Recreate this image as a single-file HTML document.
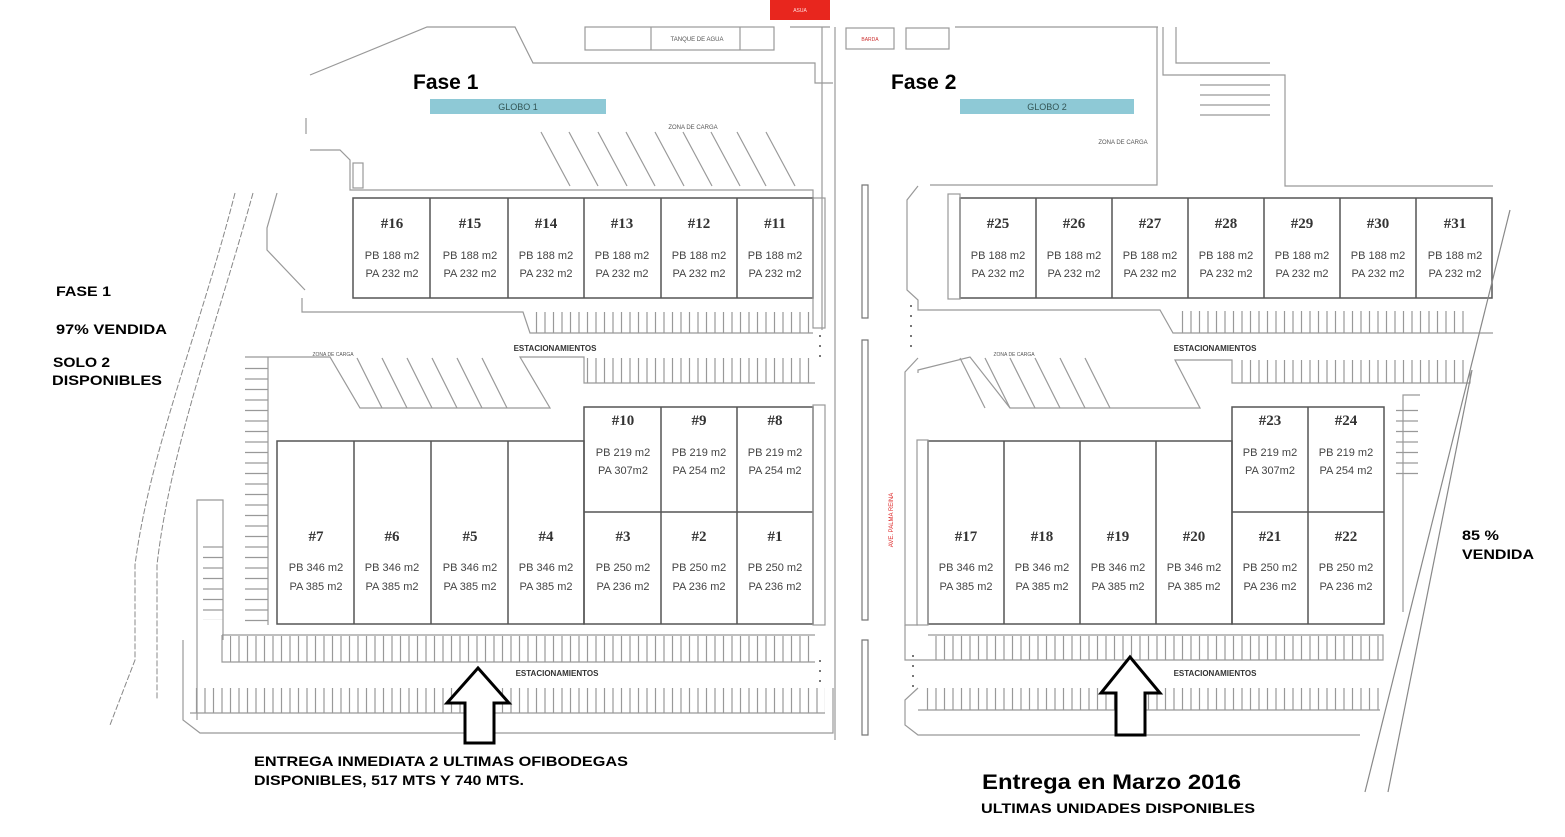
<!DOCTYPE html>
<html><head><meta charset="utf-8"><style>
html,body{margin:0;padding:0;background:#fff;width:1565px;height:837px;overflow:hidden}
svg{display:block}
.n{font-family:"Liberation Serif",serif;font-weight:bold;font-size:15px;fill:#333;text-anchor:middle}
.s{font-family:"Liberation Sans",sans-serif;font-size:11px;fill:#444;text-anchor:middle}
.b{font-family:"Liberation Sans",sans-serif;font-weight:bold;fill:#000}
.t{font-family:"Liberation Sans",sans-serif;font-size:7px;fill:#555;text-anchor:middle}
.g{stroke:#999;stroke-width:1.2;fill:none}
.u{stroke:#555;stroke-width:1.5;fill:none}
</style></head><body>
<svg width="1565" height="837" viewBox="0 0 1565 837" xmlns="http://www.w3.org/2000/svg">
<defs>
<pattern id="tk" width="8.5" height="40" patternUnits="userSpaceOnUse"><line x1="1" y1="0" x2="1" y2="40" stroke="#999" stroke-width="1.2"/></pattern>
<pattern id="hk" width="40" height="10.5" patternUnits="userSpaceOnUse"><line x1="0" y1="1" x2="40" y2="1" stroke="#999" stroke-width="1.2"/></pattern>
</defs>
<rect x="770" y="0" width="60" height="20" fill="#e8261e"/>
<text x="800" y="12" class="t" style="fill:#fdd;font-size:5px">ASUA</text>
<rect x="585" y="27" width="189" height="23" class="g"/>
<line x1="651" y1="27" x2="651" y2="50" class="g"/><line x1="740" y1="27" x2="740" y2="50" class="g"/>
<text x="697" y="41" class="t" style="font-size:6px">TANQUE DE AGUA</text>
<rect x="846" y="28" width="48" height="21" class="g"/><text x="870" y="41" class="t" style="font-size:5px;fill:#c33">BARDA</text>
<rect x="906" y="28" width="43" height="21" class="g"/>
<polyline class="g" points="310,75 427,27 515,27 533,63 815,63 815,83 833,83"/>
<polyline class="g" points="790,27 830,27"/>
<line x1="822" y1="27" x2="822" y2="330" class="g"/><line x1="835" y1="27" x2="835" y2="740" class="g"/>
<line x1="306" y1="118" x2="306" y2="134" class="g"/>
<polyline class="g" points="310,150 340,150 350,160 350,190 813,190 813,198"/>
<rect x="353" y="163" width="10" height="25" class="g"/>
<rect x="430" y="99" width="176" height="15" fill="#8ec9d6"/>
<text x="518" y="110" class="t" style="font-size:9px;fill:#355">GLOBO 1</text>
<rect x="960" y="99" width="174" height="15" fill="#8ec9d6"/>
<text x="1047" y="110" class="t" style="font-size:9px;fill:#355">GLOBO 2</text>
<text x="413" y="89" class="b" style="font-size:21px">Fase 1</text>
<text x="891" y="89" class="b" style="font-size:21px">Fase 2</text>
<text x="693" y="129" class="t" style="font-size:6px">ZONA DE CARGA</text>
<text x="1123" y="144" class="t" style="font-size:6px">ZONA DE CARGA</text>
<path class="g" d="M541 132 L570 186 M569 132 L598 186 M598 132 L627 186 M626 132 L655 186 M655 132 L684 186 M683 132 L712 186 M711 132 L740 186 M737 132 L766 186 M766 132 L795 186"/>
<rect x="353" y="198" width="460" height="100" class="u"/>
<path class="u" d="M430 198V298M508 198V298M584 198V298M661 198V298M737 198V298"/>
<polyline class="g" points="302,298 302,312 523,312 530,333 813,333"/>
<rect x="530" y="312" width="283" height="21" fill="url(#tk)"/>
<rect x="813" y="198" width="12" height="130" class="g"/>
<g class="n">
<text x="392" y="228">#16</text><text x="470" y="228">#15</text><text x="546" y="228">#14</text><text x="622" y="228">#13</text><text x="699" y="228">#12</text><text x="775" y="228">#11</text>
</g>
<g class="s">
<text x="392" y="259">PB 188 m2</text><text x="470" y="259">PB 188 m2</text><text x="546" y="259">PB 188 m2</text><text x="622" y="259">PB 188 m2</text><text x="699" y="259">PB 188 m2</text><text x="775" y="259">PB 188 m2</text>
<text x="392" y="277">PA 232 m2</text><text x="470" y="277">PA 232 m2</text><text x="546" y="277">PA 232 m2</text><text x="622" y="277">PA 232 m2</text><text x="699" y="277">PA 232 m2</text><text x="775" y="277">PA 232 m2</text>
</g>
<text x="555" y="351" class="t" style="font-size:8px;font-weight:bold;fill:#333">ESTACIONAMIENTOS</text>
<text x="333" y="356" class="t" style="font-size:5px">ZONA DE CARGA</text>
<polyline class="g" points="245,357 330,357 360,408 550,408 520,357 584,357 584,383 815,383"/>
<rect x="585" y="358" width="228" height="25" fill="url(#tk)"/>
<path class="g" d="M357 358 L382 408 M382 358 L407 408 M407 358 L432 408 M432 358 L457 408 M457 358 L482 408 M482 358 L507 408"/>
<line x1="268" y1="357" x2="268" y2="625" class="g"/>
<rect x="245" y="360" width="23" height="265" fill="url(#hk)"/>
<rect x="277" y="441" width="307" height="183" class="u"/>
<path class="u" d="M354 441V624M431 441V624M508 441V624"/>
<rect x="584" y="407" width="229" height="217" class="u"/>
<path class="u" d="M661 407V624M737 407V624M584 512H813"/>
<rect x="813" y="405" width="12" height="220" class="g"/>
<g class="n">
<text x="623" y="425">#10</text><text x="699" y="425">#9</text><text x="775" y="425">#8</text>
<text x="316" y="541">#7</text><text x="392" y="541">#6</text><text x="470" y="541">#5</text><text x="546" y="541">#4</text><text x="623" y="541">#3</text><text x="699" y="541">#2</text><text x="775" y="541">#1</text>
</g>
<g class="s">
<text x="623" y="456">PB 219 m2</text><text x="699" y="456">PB 219 m2</text><text x="775" y="456">PB 219 m2</text>
<text x="623" y="474">PA 307m2</text><text x="699" y="474">PA 254 m2</text><text x="775" y="474">PA 254 m2</text>
<text x="316" y="571">PB 346 m2</text><text x="392" y="571">PB 346 m2</text><text x="470" y="571">PB 346 m2</text><text x="546" y="571">PB 346 m2</text><text x="623" y="571">PB 250 m2</text><text x="699" y="571">PB 250 m2</text><text x="775" y="571">PB 250 m2</text>
<text x="316" y="590">PA 385 m2</text><text x="392" y="590">PA 385 m2</text><text x="470" y="590">PA 385 m2</text><text x="546" y="590">PA 385 m2</text><text x="623" y="590">PA 236 m2</text><text x="699" y="590">PA 236 m2</text><text x="775" y="590">PA 236 m2</text>
</g>
<polyline class="g" points="222,635 815,635"/>
<polyline class="g" points="222,635 222,662 815,662"/>
<rect x="230" y="636" width="585" height="26" fill="url(#tk)"/>
<text x="557" y="676" class="t" style="font-size:8px;font-weight:bold;fill:#333">ESTACIONAMIENTOS</text>
<polyline class="g" points="183,640 183,720 200,733 833,733 833,688"/>
<polyline class="g" points="190,713 825,713"/>
<rect x="190" y="688" width="635" height="25" fill="url(#tk)"/>
<polyline class="g" points="197,720 197,500 223,500 223,640"/>
<rect x="203" y="540" width="20" height="80" fill="url(#hk)"/>
<path d="M235 193 C 200 330, 150 450, 135 565 L135 660 L110 725" stroke="#888" stroke-width="1" fill="none" stroke-dasharray="6 2"/>
<path d="M253 193 C 215 330, 170 450, 157 565 L157 700" stroke="#888" stroke-width="1" fill="none" stroke-dasharray="6 2"/>
<polyline class="g" points="277,193 267,228 267,250 305,290"/>
<line x1="820" y1="335" x2="820" y2="360" stroke="#777" stroke-width="2" stroke-dasharray="2 8"/>
<line x1="820" y1="660" x2="820" y2="690" stroke="#777" stroke-width="2" stroke-dasharray="2 8"/>
<path class="g" d="M862 185V318H868V185ZM862 340V620H868V340ZM862 640V735H868V640Z" style="stroke:#777"/>
<text x="893" y="520" class="t" transform="rotate(-90 893 520)" style="font-size:6px;fill:#d22">AVE. PALMA REINA</text>
<line x1="911" y1="305" x2="911" y2="355" stroke="#777" stroke-width="2" stroke-dasharray="2 8"/>
<line x1="913" y1="655" x2="913" y2="690" stroke="#777" stroke-width="2" stroke-dasharray="2 8"/>
<polyline class="g" points="1163,27 1163,75 1285,75 1285,186 1493,186"/>
<polyline class="g" points="1176,27 1176,63 1270,63"/>
<polyline class="g" points="955,27 1158,27"/>
<polyline class="g" points="930,185 1157,185 1157,27"/>
<path class="g" d="M1200 75H1270M1200 85H1270M1200 95H1270M1200 105H1270M1200 115H1270"/>
<polyline class="g" points="918,186 907,200 907,290 918,300 918,310 1160,310 1173,333 1493,333"/>
<rect x="960" y="198" width="532" height="100" class="u"/>
<path class="u" d="M1036 198V298M1112 198V298M1188 198V298M1264 198V298M1340 198V298M1416 198V298"/>
<rect x="948" y="194" width="12" height="105" class="g"/>
<rect x="1180" y="311" width="290" height="22" fill="url(#tk)"/>
<g class="n">
<text x="998" y="228">#25</text><text x="1074" y="228">#26</text><text x="1150" y="228">#27</text><text x="1226" y="228">#28</text><text x="1302" y="228">#29</text><text x="1378" y="228">#30</text><text x="1455" y="228">#31</text>
</g>
<g class="s">
<text x="998" y="259">PB 188 m2</text><text x="1074" y="259">PB 188 m2</text><text x="1150" y="259">PB 188 m2</text><text x="1226" y="259">PB 188 m2</text><text x="1302" y="259">PB 188 m2</text><text x="1378" y="259">PB 188 m2</text><text x="1455" y="259">PB 188 m2</text>
<text x="998" y="277">PA 232 m2</text><text x="1074" y="277">PA 232 m2</text><text x="1150" y="277">PA 232 m2</text><text x="1226" y="277">PA 232 m2</text><text x="1302" y="277">PA 232 m2</text><text x="1378" y="277">PA 232 m2</text><text x="1455" y="277">PA 232 m2</text>
</g>
<text x="1215" y="351" class="t" style="font-size:8px;font-weight:bold;fill:#333">ESTACIONAMIENTOS</text>
<text x="1014" y="356" class="t" style="font-size:5px">ZONA DE CARGA</text>
<polyline class="g" points="918,358 905,372 905,625 918,625"/>
<polyline class="g" points="918,373 918,370 970,357 1010,408 1200,408 1175,360 1232,360 1232,383 1470,383 1470,370"/>
<rect x="1240" y="360" width="230" height="23" fill="url(#tk)"/>
<path class="g" d="M960 358 L985 408 M985 358 L1010 408 M1010 358 L1035 408 M1035 358 L1060 408 M1060 358 L1085 408 M1085 358 L1110 408"/>
<rect x="928" y="441" width="304" height="183" class="u"/>
<path class="u" d="M1004 441V624M1080 441V624M1156 441V624"/>
<rect x="1232" y="407" width="152" height="217" class="u"/>
<path class="u" d="M1308 407V624M1232 512H1384"/>
<rect x="917" y="440" width="11" height="185" class="g"/>
<polyline class="g" points="1403,612 1403,395 1420,395"/>
<rect x="1396" y="402" width="22" height="80" fill="url(#hk)"/>
<g class="n">
<text x="1270" y="425">#23</text><text x="1346" y="425">#24</text>
<text x="966" y="541">#17</text><text x="1042" y="541">#18</text><text x="1118" y="541">#19</text><text x="1194" y="541">#20</text><text x="1270" y="541">#21</text><text x="1346" y="541">#22</text>
</g>
<g class="s">
<text x="1270" y="456">PB 219 m2</text><text x="1346" y="456">PB 219 m2</text>
<text x="1270" y="474">PA 307m2</text><text x="1346" y="474">PA 254 m2</text>
<text x="966" y="571">PB 346 m2</text><text x="1042" y="571">PB 346 m2</text><text x="1118" y="571">PB 346 m2</text><text x="1194" y="571">PB 346 m2</text><text x="1270" y="571">PB 250 m2</text><text x="1346" y="571">PB 250 m2</text>
<text x="966" y="590">PA 385 m2</text><text x="1042" y="590">PA 385 m2</text><text x="1118" y="590">PA 385 m2</text><text x="1194" y="590">PA 385 m2</text><text x="1270" y="590">PA 236 m2</text><text x="1346" y="590">PA 236 m2</text>
</g>
<polyline class="g" points="905,625 905,660 928,660 1383,660 1383,635 928,635"/>
<rect x="930" y="636" width="450" height="24" fill="url(#tk)"/>
<text x="1215" y="676" class="t" style="font-size:8px;font-weight:bold;fill:#333">ESTACIONAMIENTOS</text>
<polyline class="g" points="918,688 905,700 905,725 918,735 1360,735"/>
<polyline class="g" points="918,710 1380,710"/>
<rect x="920" y="688" width="460" height="22" fill="url(#tk)"/>
<line x1="1510" y1="210" x2="1365" y2="792" stroke="#888" stroke-width="1.2"/>
<line x1="1472" y1="370" x2="1388" y2="792" stroke="#888" stroke-width="1.2"/>
<polygon points="478,668 509,703 494,703 494,743 465,743 465,703 447,703" fill="#fff" stroke="#000" stroke-width="3"/>
<polygon points="1130,657 1160,693 1145,693 1145,735 1116,735 1116,693 1101,693" fill="#fff" stroke="#000" stroke-width="3"/>
<text x="56" y="296" class="b" style="font-size:14px" textLength="55" lengthAdjust="spacingAndGlyphs">FASE 1</text>
<text x="56" y="334" class="b" style="font-size:14px" textLength="111" lengthAdjust="spacingAndGlyphs">97% VENDIDA</text>
<text x="53" y="367" class="b" style="font-size:14px" textLength="57" lengthAdjust="spacingAndGlyphs">SOLO 2</text>
<text x="52" y="385" class="b" style="font-size:14px" textLength="110" lengthAdjust="spacingAndGlyphs">DISPONIBLES</text>
<text x="1462" y="540" class="b" style="font-size:14px" textLength="37" lengthAdjust="spacingAndGlyphs">85 %</text>
<text x="1462" y="559" class="b" style="font-size:14px" textLength="72" lengthAdjust="spacingAndGlyphs">VENDIDA</text>
<text x="254" y="766" class="b" style="font-size:14px" textLength="374" lengthAdjust="spacingAndGlyphs">ENTREGA INMEDIATA  2 ULTIMAS OFIBODEGAS</text>
<text x="254" y="785" class="b" style="font-size:14px" textLength="270" lengthAdjust="spacingAndGlyphs">DISPONIBLES, 517 MTS Y 740 MTS.</text>
<text x="982" y="789" class="b" style="font-size:21px" textLength="259" lengthAdjust="spacingAndGlyphs">Entrega en Marzo 2016</text>
<text x="981" y="813" class="b" style="font-size:14px" textLength="274" lengthAdjust="spacingAndGlyphs">ULTIMAS UNIDADES DISPONIBLES</text>
</svg>
</body></html>
